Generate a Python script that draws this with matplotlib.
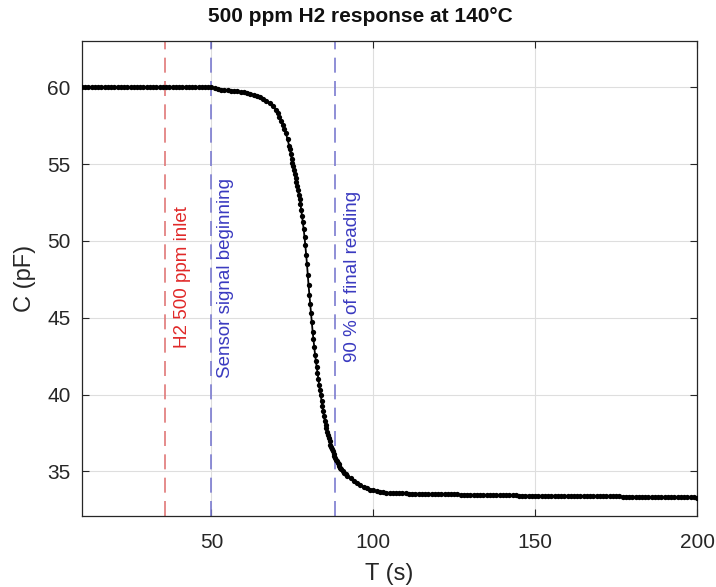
import matplotlib
matplotlib.use("Agg")
import matplotlib.pyplot as plt

plt.rcParams["font.family"] = ["Liberation Sans", "DejaVu Sans"]

# Capacitance trace, split into baseline / response / settled tail.
# Baseline and tail sampled every 1 s, the steep response more densely.
T_BASE = [10, 11, 12, 13, 14, 15, 16, 17, 18, 19,
          20, 21, 22, 23, 24, 25, 26, 27, 28, 29,
          30, 31, 32, 33, 34, 35, 36, 37, 38, 39,
          40, 41, 42, 43, 44, 45, 46, 47, 48, 49,
          50, 51, 52, 53, 54, 55, 56, 57, 58, 59,
          60, 61, 62, 63, 64, 65, 66, 67, 68, 69]
C_BASE = [60.0, 60.0, 60.0, 60.0, 60.0, 60.0, 60.0, 60.0, 60.0, 60.0,
          60.0, 60.0, 60.0, 60.0, 60.0, 60.0, 60.0, 60.0, 60.0, 60.0,
          60.0, 60.0, 60.0, 60.0, 60.0, 60.0, 60.0, 60.0, 60.0, 60.0,
          60.0, 60.0, 60.0, 60.0, 60.0, 60.0, 60.0, 60.0, 60.0, 60.0,
          60.0, 59.93, 59.88, 59.85, 59.82, 59.80, 59.78, 59.76, 59.73, 59.70,
          59.66, 59.61, 59.56, 59.50, 59.43, 59.35, 59.25, 59.12, 58.96, 58.76]

T_DROP = [70.0, 70.5, 71.0, 71.5, 72.0, 72.5, 73.0, 73.5,
          74.0, 74.25, 74.5, 74.75, 75.0, 75.25, 75.5, 75.75,
          76.0, 76.25, 76.5, 76.75, 77.0, 77.25, 77.5, 77.75,
          78.0, 78.25, 78.5, 78.75, 79.0, 79.25, 79.5, 79.75,
          80.0, 80.25, 80.5, 80.75, 81.0, 81.25, 81.5, 81.75,
          82.0, 82.25, 82.5, 82.75, 83.0, 83.25, 83.5, 83.75,
          84.0, 84.25, 84.5, 84.75, 85.0, 85.25, 85.5, 85.75,
          86.0, 86.25, 86.5, 86.75, 87.0, 87.25, 87.5, 87.75,
          88.0, 88.25, 88.5, 88.75, 89.0, 89.25, 89.5, 89.75,
          90.0, 90.5, 91.0, 91.5, 92.0]
C_DROP = [58.5, 58.3, 58.05, 57.8, 57.55, 57.3, 57.0, 56.6,
          56.2, 55.95, 55.65, 55.35, 55.1, 54.85, 54.6, 54.35,
          54.1, 53.85, 53.6, 53.3, 53.0, 52.7, 52.4, 52.0,
          51.6, 51.2, 50.75, 50.25, 49.7, 49.1, 48.5, 47.8,
          47.1, 46.5, 45.9, 45.3, 44.7, 44.1, 43.6, 43.1,
          42.6, 42.2, 41.8, 41.4, 41.0, 40.65, 40.3, 39.95,
          39.6, 39.25, 38.9, 38.6, 38.3, 38.05, 37.8, 37.55,
          37.35, 37.15, 36.95, 36.75, 36.6, 36.45, 36.3, 36.15,
          36.0, 35.85, 35.75, 35.65, 35.55, 35.45, 35.35, 35.25,
          35.15, 35.0, 34.9, 34.8, 34.7]

T_TAIL = [93, 94, 95, 96, 97, 98, 99, 100,
          101, 102, 103, 104, 105, 106, 107, 108, 109, 110,
          111, 112, 113, 114, 115, 116, 117, 118, 119, 120,
          121, 122, 123, 124, 125, 126, 127, 128, 129, 130,
          131, 132, 133, 134, 135, 136, 137, 138, 139, 140,
          141, 142, 143, 144, 145, 146, 147, 148, 149, 150,
          151, 152, 153, 154, 155, 156, 157, 158, 159, 160,
          161, 162, 163, 164, 165, 166, 167, 168, 169, 170,
          171, 172, 173, 174, 175, 176, 177, 178, 179, 180,
          181, 182, 183, 184, 185, 186, 187, 188, 189, 190,
          191, 192, 193, 194, 195, 196, 197, 198, 199, 200]
C_TAIL = [34.55, 34.40, 34.25, 34.12, 34.00, 33.90, 33.82, 33.76,
          33.71, 33.68, 33.65, 33.62, 33.60, 33.59, 33.59, 33.58, 33.57, 33.57,
          33.56, 33.56, 33.55, 33.55, 33.54, 33.54, 33.53, 33.53, 33.52, 33.52,
          33.51, 33.51, 33.50, 33.50, 33.50, 33.50, 33.49, 33.49, 33.49, 33.48,
          33.48, 33.48, 33.47, 33.47, 33.47, 33.46, 33.46, 33.46, 33.45, 33.45,
          33.45, 33.44, 33.44, 33.44, 33.43, 33.43, 33.43, 33.42, 33.42, 33.42,
          33.42, 33.41, 33.41, 33.41, 33.41, 33.41, 33.40, 33.40, 33.40, 33.40,
          33.40, 33.40, 33.39, 33.39, 33.39, 33.39, 33.39, 33.38, 33.38, 33.38,
          33.38, 33.38, 33.37, 33.37, 33.37, 33.37, 33.36, 33.36, 33.36, 33.36,
          33.35, 33.35, 33.35, 33.35, 33.34, 33.34, 33.34, 33.34, 33.33, 33.33,
          33.33, 33.33, 33.32, 33.32, 33.32, 33.32, 33.31, 33.31, 33.31, 33.30]

# Event markers: time, label, line colour, text colour
EVENT_T = [35.5, 50.0, 88.3]
EVENT_LABEL = ["H2 500 ppm inlet", "Sensor signal beginning", "90 % of final reading"]
EVENT_LINE_COLOR = ["#e07878", "#7b7bd0", "#7b7bd0"]
EVENT_TEXT_COLOR = ["#e02828", "#3a3ac0", "#3a3ac0"]
# where the rotated labels sit (x, bottom y)
LABEL_X = [41.0, 54.3, 93.5]
LABEL_Y = [43.0, 41.1, 42.1]

X_TICKS = [50, 100, 150, 200]
Y_TICKS = [35, 40, 45, 50, 55, 60]

t = T_BASE + T_DROP + T_TAIL
c = C_BASE + C_DROP + C_TAIL

fig = plt.figure(figsize=(7.16, 5.87), dpi=100)
ax = fig.add_axes([0.1145, 0.121, 0.859, 0.809])

ink = "#262626"

for xv, lc in zip(EVENT_T, EVENT_LINE_COLOR):
    ax.axvline(xv, color=lc, lw=1.2, dashes=(9, 5), zorder=2)

ax.plot(t, c, color="black", lw=1.3, marker="o", markersize=3.8,
        markeredgewidth=0, zorder=3)

for lx, ly, txt, tc in zip(LABEL_X, LABEL_Y, EVENT_LABEL, EVENT_TEXT_COLOR):
    ax.text(lx, ly, txt, rotation=90, ha="center", va="bottom",
            color=tc, fontsize=13.5, zorder=4)

ax.set_xlim(10, 200)
ax.set_ylim(32.1, 63.0)
ax.set_xticks(X_TICKS)
ax.set_yticks(Y_TICKS)
ax.grid(True, color="#dedede", lw=0.8)
ax.set_axisbelow(True)

ax.tick_params(direction="in", top=True, right=True, length=5, width=0.8,
               labelsize=15, colors=ink, pad=8)
ax.tick_params(axis="x", pad=12)
for s in ax.spines.values():
    s.set_color(ink)
    s.set_linewidth(0.9)

ax.set_xlabel("T (s)", fontsize=17, color=ink, labelpad=8)
ax.set_ylabel("C (pF)", fontsize=17, color=ink, labelpad=8)
# title is centred on the figure, not on the axes
fig.suptitle("500 ppm H2 response at 140°C", fontsize=15, fontweight="bold",
             color="#111111", x=0.503, y=0.988)

fig.savefig("out.png", dpi=100)
